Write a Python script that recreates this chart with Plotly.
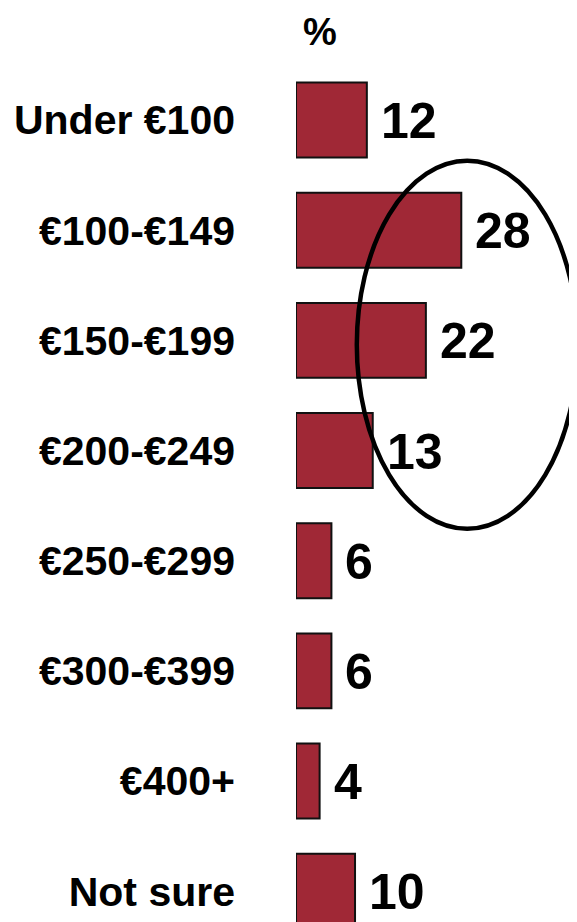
import plotly.graph_objects as go

# price bands and share of respondents (%)
categorias = ["Under €100", "€100-€149", "€150-€199", "€200-€249",
              "€250-€299", "€300-€399", "€400+", "Not sure"]
porcentajes = [12, 28, 22, 13, 6, 6, 4, 10]

color_barra = "#A02836"
fuente = "Liberation Sans, Arial, sans-serif"

fig = go.Figure()
fig.add_trace(go.Bar(
    x=porcentajes,
    y=categorias,
    orientation="h",
    marker=dict(color=color_barra, line=dict(color="#111111", width=2)),
    hoverinfo="skip",
))

# valores al lado de cada barra
for cat, val in zip(categorias, porcentajes):
    fig.add_annotation(
        x=val, y=cat, text=str(val), showarrow=False,
        xanchor="left", yanchor="middle", xshift=12, yshift=-1,
        font=dict(family=fuente, size=50, color="black", weight="bold"),
    )

# encabezado "%"
fig.add_annotation(
    x=0, y=1.038, xref="x", yref="paper", text="%", showarrow=False,
    xanchor="left", yanchor="middle", xshift=5,
    font=dict(family=fuente, size=38, color="black", weight="bold"),
)

# elipse alrededor de 28 / 22 / 13
fig.add_shape(
    type="circle", xref="x", yref="y",
    x0=10.3, x1=47.7, y0=0.37, y1=3.71,
    line=dict(color="black", width=4.5),
)

# la página html deja un margen de 8 px alrededor del gráfico
fig.update_layout(
    width=569, height=914,
    margin=dict(l=288, r=0, t=57, b=0),
    paper_bgcolor="white", plot_bgcolor="white",
    showlegend=False,
    bargap=0.32,
    xaxis=dict(range=[0, 47.6], visible=False, fixedrange=True),
    yaxis=dict(
        categoryorder="array", categoryarray=categorias,
        range=[7.28, -0.5],
        showgrid=False, zeroline=False, showline=False, ticks="",
        ticklabelstandoff=60,
        tickfont=dict(family=fuente, size=41, color="black", weight="bold"),
        fixedrange=True,
    ),
)

fig.write_html("out.html")
